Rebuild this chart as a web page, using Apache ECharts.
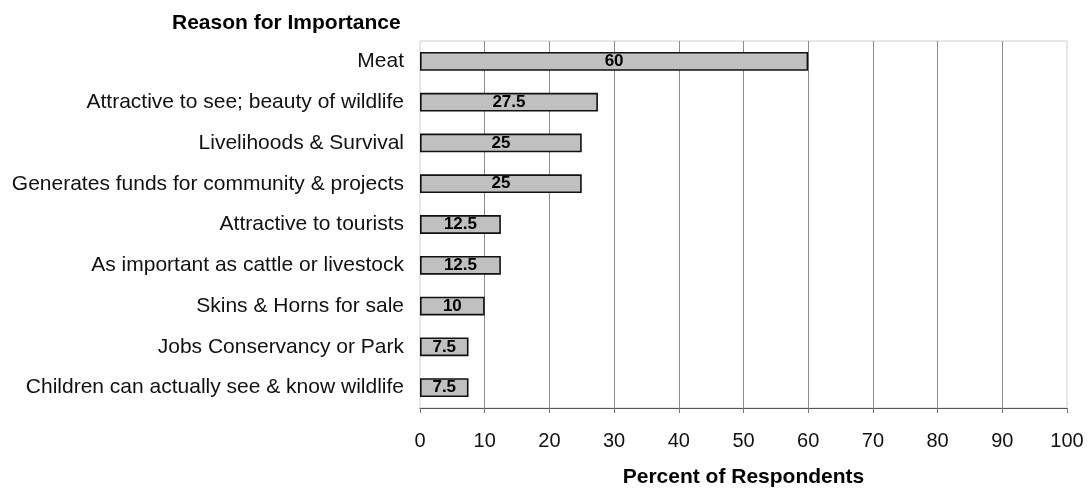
<!DOCTYPE html>
<html>
<head>
<meta charset="utf-8">
<script src="https://cdn.jsdelivr.net/npm/echarts@6/dist/echarts.min.js"></script>
<style>
  html, body { margin: 0; padding: 0; background: #fff; }
  #chart { width: 1091px; height: 493px; }
</style>
</head>
<body>
<div id="chart"></div>
<script>
// Reasons wildlife is important, top to bottom
const reasons = [
  'Meat',
  'Attractive to see; beauty of wildlife',
  'Livelihoods & Survival',
  'Generates funds for community & projects',
  'Attractive to tourists',
  'As important as cattle or livestock',
  'Skins & Horns for sale',
  'Jobs Conservancy or Park',
  'Children can actually see & know wildlife'
];
// Percent of respondents giving each reason
const percents = [60, 27.5, 25, 25, 12.5, 12.5, 10, 7.5, 7.5];
// Percent axis ticks
const percentTicks = [0, 10, 20, 30, 40, 50, 60, 70, 80, 90, 100];

const font = '"Liberation Sans", Arial, Helvetica, sans-serif';
const chart = echarts.init(document.getElementById('chart'), null, { renderer: 'canvas' });

chart.setOption({
  animation: false,
  backgroundColor: '#ffffff',
  textStyle: { fontFamily: font },
  title: {
    text: 'Reason for Importance',
    left: 167,
    top: 8,
    textStyle: { fontFamily: font, fontSize: 21, fontWeight: 'bold', color: '#000' }
  },
  grid: {
    left: 420,
    right: 24,
    top: 41,
    bottom: 78,
    show: true,
    borderColor: '#cfcfcf',
    borderWidth: 1,
    containLabel: false
  },
  xAxis: {
    type: 'value',
    min: percentTicks[0],
    max: percentTicks[percentTicks.length - 1],
    interval: percentTicks[1] - percentTicks[0],
    name: 'Percent of Respondents',
    nameLocation: 'middle',
    nameGap: 59,
    nameTextStyle: { fontFamily: font, fontSize: 21, fontWeight: 'bold', color: '#000' },
    axisLine: { show: true, lineStyle: { color: '#555', width: 1.2 } },
    axisTick: { show: true, length: 5, lineStyle: { color: '#777' } },
    axisLabel: { fontFamily: font, fontSize: 20, color: '#111', margin: 23 },
    splitLine: {
      show: true,
      showMinLine: false,
      showMaxLine: false,
      lineStyle: { color: '#8c8c8c', width: 1 }
    }
  },
  yAxis: {
    type: 'category',
    data: reasons,
    inverse: true,
    axisLine: { show: false },
    axisTick: { show: false },
    axisLabel: { fontFamily: font, fontSize: 21, color: '#111', margin: 16 },
    splitLine: { show: false }
  },
  series: [{
    type: 'bar',
    data: percents,
    barCategoryGap: '54%',
    itemStyle: { color: '#c0c0c0', borderColor: '#111', borderWidth: 1.6 },
    label: {
      show: true,
      position: 'inside',
      fontFamily: font,
      fontSize: 17,
      fontWeight: 'bold',
      color: '#000'
    }
  }]
});
</script>
</body>
</html>
